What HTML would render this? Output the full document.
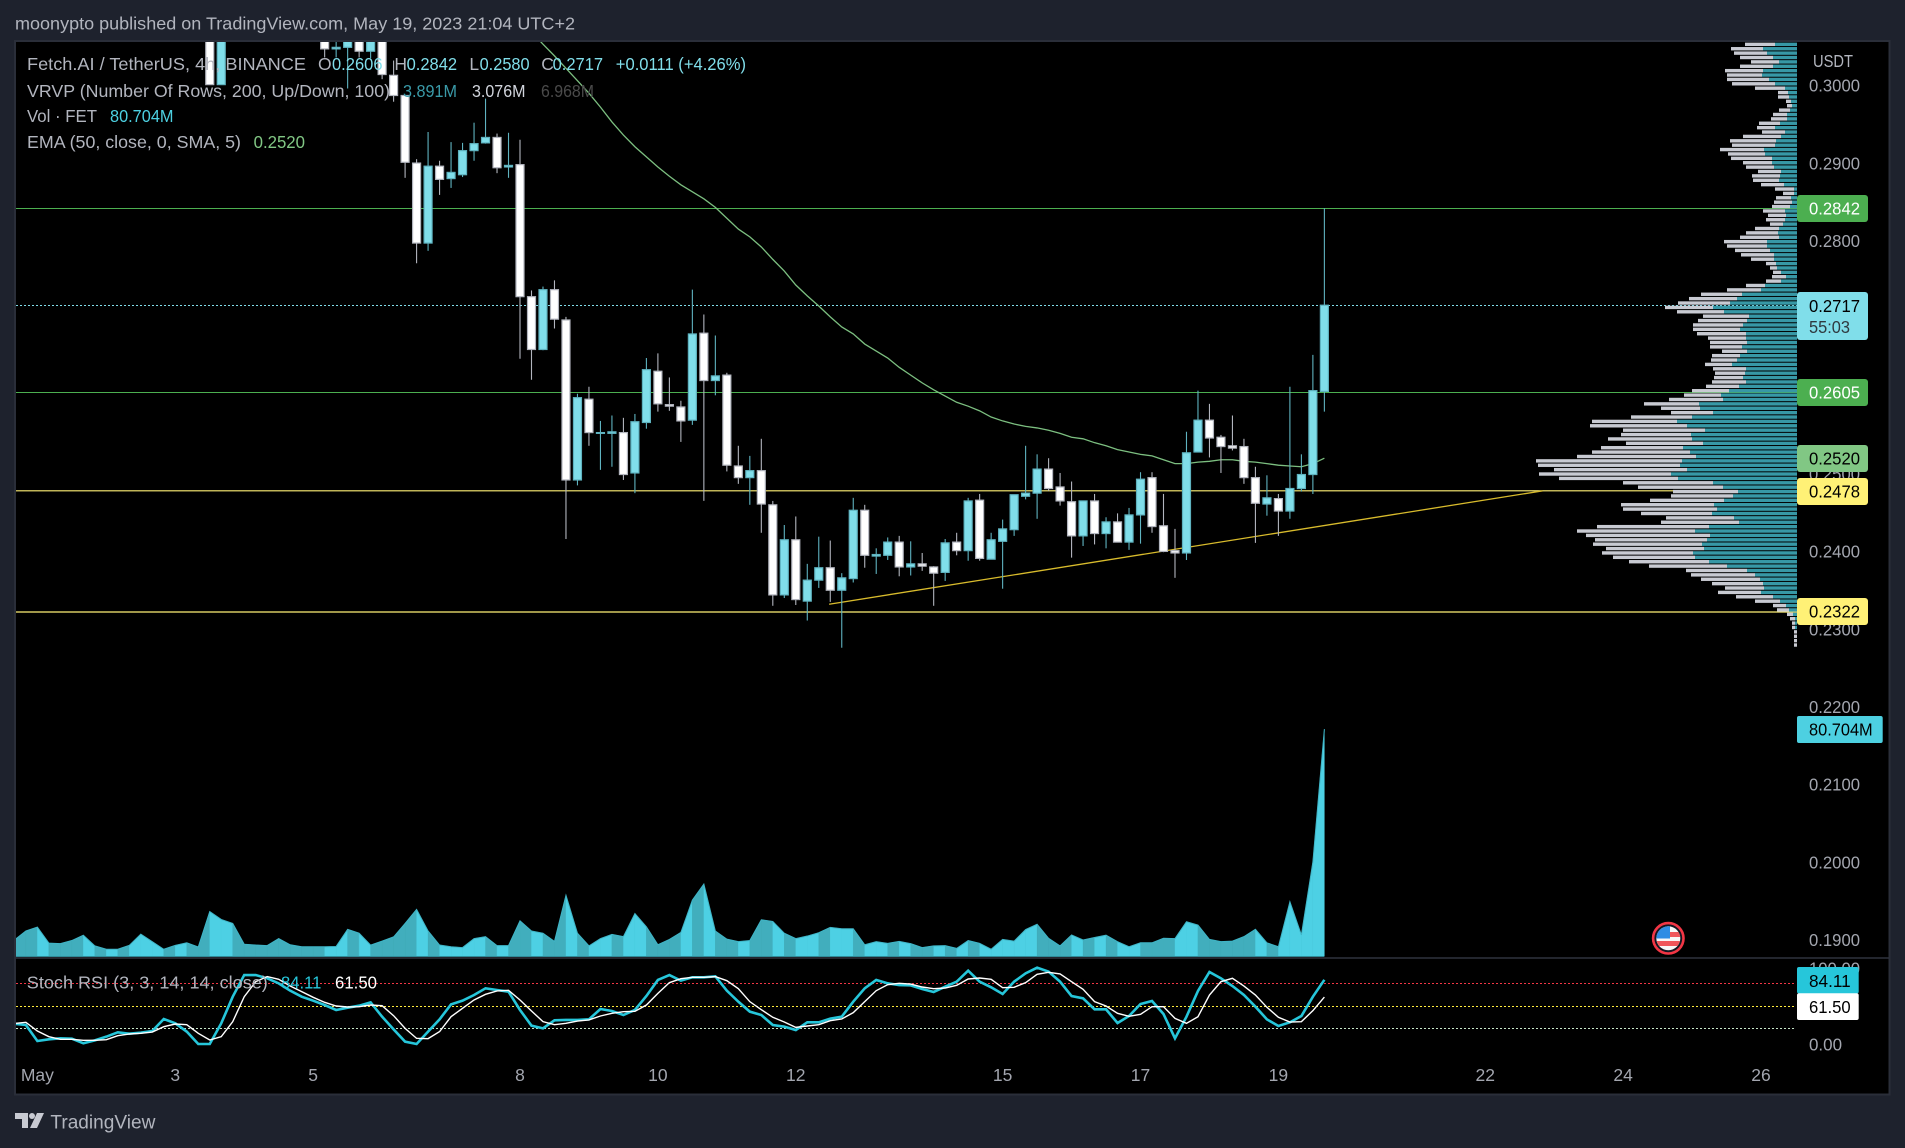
<!DOCTYPE html>
<html lang="en">
<head>
<meta charset="utf-8">
<title>FETUSDT 4h chart</title>
<style>
html,body{margin:0;padding:0;background:#1e222d;width:1905px;height:1148px;overflow:hidden}
svg{display:block}
text{font-family:"Liberation Sans",sans-serif;font-size:17.5px;dominant-baseline:central;transform:translateY(0.2px)}
</style>
</head>
<body>
<svg id="chart" width="1905" height="1148" viewBox="0 0 1905 1148" xmlns="http://www.w3.org/2000/svg">
<defs>
<clipPath id="paneClip"><rect x="16" y="42" width="1873" height="915"/></clipPath>
<clipPath id="flagClip"><circle cx="1668.3" cy="938.3" r="12"/></clipPath>
</defs>
<rect width="1905" height="1148" fill="#1e222d"/>
<rect x="15" y="41" width="1874.5" height="1053.5" fill="#000" stroke="#2a2e39" stroke-width="2"/>
<text x="15" y="23.5" fill="#b2b5be" textLength="560" lengthAdjust="spacingAndGlyphs">moonypto published on TradingView.com, May 19, 2023 21:04 UTC+2</text>
<g id="priceLayer" clip-path="url(#paneClip)"></g>
<line x1="16" x2="1889" y1="958" y2="958" stroke="#2f333e" stroke-width="1.5"/>
<g id="stochLayer"></g>
<g id="axisLayer"></g>

<g>
<text x="27" y="64" fill="#b2b5be" textLength="279" lengthAdjust="spacingAndGlyphs">Fetch.AI / TetherUS, 4h, BINANCE</text>
<text x="318" y="64" fill="#b2b5be">O</text>
<text x="332" y="64" fill="#80deea" textLength="50.5" lengthAdjust="spacingAndGlyphs">0.2606</text>
<text x="394.4" y="64" fill="#b2b5be">H</text>
<text x="406.6" y="64" fill="#80deea" textLength="50.5" lengthAdjust="spacingAndGlyphs">0.2842</text>
<text x="469.4" y="64" fill="#b2b5be">L</text>
<text x="479.6" y="64" fill="#80deea" textLength="50" lengthAdjust="spacingAndGlyphs">0.2580</text>
<text x="541.3" y="64" fill="#b2b5be">C</text>
<text x="552.6" y="64" fill="#80deea" textLength="50.5" lengthAdjust="spacingAndGlyphs">0.2717</text>
<text x="615.8" y="64" fill="#80deea" textLength="130.2" lengthAdjust="spacingAndGlyphs">+0.0111 (+4.26%)</text>
</g>
<g>
<text x="27" y="90.7" fill="#b2b5be" textLength="363" lengthAdjust="spacingAndGlyphs">VRVP (Number Of Rows, 200, Up/Down, 100)</text>
<text x="403" y="90.7" fill="#3a9aa8" textLength="54" lengthAdjust="spacingAndGlyphs">3.891M</text>
<text x="472" y="90.7" fill="#d1d4dc" textLength="53.5" lengthAdjust="spacingAndGlyphs">3.076M</text>
<text x="541" y="90.7" fill="#4a4a4a" textLength="53" lengthAdjust="spacingAndGlyphs">6.968M</text>
</g>
<g>
<text x="27" y="116" fill="#b2b5be" textLength="70" lengthAdjust="spacingAndGlyphs">Vol · FET</text>
<text x="110" y="116" fill="#4dd0e1" textLength="63.5" lengthAdjust="spacingAndGlyphs">80.704M</text>
</g>
<g>
<text x="27" y="142" fill="#b2b5be" textLength="214" lengthAdjust="spacingAndGlyphs">EMA (50, close, 0, SMA, 5)</text>
<text x="253.6" y="142" fill="#81c784" textLength="51.4" lengthAdjust="spacingAndGlyphs">0.2520</text>
</g>
<g>
<text x="26.8" y="982.3" fill="#b2b5be" textLength="241" lengthAdjust="spacingAndGlyphs">Stoch RSI (3, 3, 14, 14, close)</text>
<text x="281" y="982.3" fill="#26c6da" textLength="40.4" lengthAdjust="spacingAndGlyphs">84.11</text>
<text x="335" y="982.3" fill="#ffffff" textLength="42" lengthAdjust="spacingAndGlyphs">61.50</text>
</g>

<text x="1813" y="60.7" fill="#b2b5be" textLength="40" lengthAdjust="spacingAndGlyphs">USDT</text>

<g>
<rect x="1797" y="195" width="71" height="27" rx="3" fill="#4caf50"/>
<text x="1809" y="208.5" fill="#fff" textLength="51" lengthAdjust="spacingAndGlyphs">0.2842</text>
</g>
<g>
<rect x="1797" y="292" width="71" height="48" rx="3" fill="#80deea"/>
<text x="1809" y="306" fill="#000" textLength="51" lengthAdjust="spacingAndGlyphs">0.2717</text>
<text x="1809" y="326.7" fill="#2f3a40" textLength="41" lengthAdjust="spacingAndGlyphs">55:03</text>
</g>
<g>
<rect x="1797" y="379" width="71" height="27" rx="3" fill="#4caf50"/>
<text x="1809" y="392.5" fill="#fff" textLength="51" lengthAdjust="spacingAndGlyphs">0.2605</text>
</g>
<g>
<rect x="1797" y="445" width="71" height="27" rx="3" fill="#81c784"/>
<text x="1809" y="458.5" fill="#000" textLength="51" lengthAdjust="spacingAndGlyphs">0.2520</text>
</g>
<g>
<rect x="1797" y="478" width="71" height="27" rx="3" fill="#fff176"/>
<text x="1809" y="491.5" fill="#000" textLength="51" lengthAdjust="spacingAndGlyphs">0.2478</text>
</g>
<g>
<rect x="1797" y="598" width="71" height="27" rx="3" fill="#fff176"/>
<text x="1809" y="611.5" fill="#000" textLength="51" lengthAdjust="spacingAndGlyphs">0.2322</text>
</g>
<g>
<rect x="1797" y="716" width="85.7" height="27" rx="2" fill="#4dd0e1"/>
<text x="1809" y="729.5" fill="#000" textLength="63.7" lengthAdjust="spacingAndGlyphs">80.704M</text>
</g>
<g>
<rect x="1797" y="967" width="61.7" height="26.5" rx="2" fill="#26c6da"/>
<text x="1809" y="980.7" fill="#000" textLength="41.7" lengthAdjust="spacingAndGlyphs">84.11</text>
</g>
<g>
<rect x="1797" y="993.3" width="61.7" height="26.7" rx="2" fill="#fff"/>
<text x="1809" y="1006.7" fill="#000" textLength="41.7" lengthAdjust="spacingAndGlyphs">61.50</text>
</g>

<g>
<circle cx="1668.3" cy="938.3" r="15.2" fill="#131722" stroke="#f23645" stroke-width="2.6"/>
<g clip-path="url(#flagClip)">
<rect x="1655" y="925" width="27" height="27" fill="#f7f7f7"/>
<rect x="1655" y="932" width="27" height="5" fill="#f0555a"/>
<rect x="1655" y="941" width="27" height="5" fill="#f0555a"/>
<rect x="1655" y="925" width="15" height="13.5" fill="#2f8de4"/>
</g>
</g>

<g>
<path fill="#c8cad2" d="M15 1113H28V1128H22V1119H15Z M37 1113H44L37 1128H30Z"/>
<circle cx="32" cy="1116" r="3" fill="#c8cad2"/>
<text x="50.4" y="1122.7" fill="#b2b5be" textLength="105" lengthAdjust="spacingAndGlyphs" style="font-size:19px">TradingView</text>
</g>

<script>
// ---------- price series (FET/USDT, 4h bars; first bars lie above the visible range) ----------
const opens = [.3450,.3430,.3410,.3385,.3400,.3390,.3375,.3350,.3360,.3350,.3355,.3345,.3365,.3375,.3380,.3365,.3375,.3200,.3001,.3180,.3240,.3210,.3195,.3180,.3165,.3150,.3130,.3090,.3047,.3049,.3085,.3044,.3075,
.3013,.2987,.2900,.2797,.2896,.2880,.2885,.2916,.2926,.2933,.2895,.2898,.2728,.2660,.2737,.2698,.2492,.2596,.2552,.2552,.2553,.2501,.2566,.2632,.2589,.2586,.2569,.2681,.2620,.2627,.2510,.2495,.2504,.2460,.2344,.2415,.2336,.2363,.2379,.2350,.2365,.2453,.2394,.2395,.2412,.2380,.2384,.2380,.2373,.2412,.2401,.2466,.2390,.2413,.2428,.2471,.2475,.2506,.2483,.2464,.2420,.2465,.2423,.2438,.2412,.2447,.2495,.2433,.2401,.2398,.2528,.2569,.2547,.2536,.2535,.2495,.2461,.2468,.2452,.2481,.2499,.2606];
const highs = [.3460,.3440,.3420,.3405,.3410,.3395,.3380,.3365,.3365,.3360,.3360,.3370,.3380,.3385,.3385,.3380,.3380,.3205,.3185,.3245,.3250,.3220,.3200,.3190,.3170,.3155,.3135,.3095,.3080,.3090,.3090,.3080,.3080,
.3032,.2987,.2905,.2940,.2903,.2927,.2926,.2952,.2983,.2938,.2939,.2930,.2736,.2741,.2749,.2702,.2603,.2612,.2568,.2575,.2572,.2577,.2649,.2655,.2624,.2594,.2737,.2705,.2678,.2630,.2536,.2523,.2545,.2465,.2434,.2445,.2384,.2419,.2414,.2372,.2469,.2460,.2404,.2418,.2420,.2413,.2398,.2381,.2416,.2424,.2469,.2474,.2424,.2441,.2473,.2536,.2525,.2520,.2501,.2490,.2465,.2474,.2444,.2449,.2456,.2502,.2502,.2474,.2429,.2554,.2607,.2590,.2550,.2575,.2545,.2509,.2498,.2474,.2612,.2525,.2653,.2842];
const lows = [.3420,.3400,.3380,.3380,.3385,.3370,.3345,.3345,.3345,.3345,.3340,.3340,.3360,.3370,.3360,.3360,.3195,.3001,.3001,.3175,.3205,.3190,.3175,.3160,.3145,.3125,.3085,.3036,.3036,.2996,.3036,.3035,.3008,
.2979,.2881,.2771,.2787,.2859,.2868,.2882,.2903,.2925,.2887,.2881,.2648,.2621,.2659,.2687,.2416,.2485,.2536,.2505,.2509,.2492,.2475,.2558,.2580,.2581,.2541,.2563,.2465,.2601,.2503,.2487,.2460,.2424,.2330,.2340,.2331,.2311,.2353,.2335,.2276,.2360,.2379,.2371,.2389,.2368,.2369,.2375,.2330,.2362,.2395,.2388,.2388,.2390,.2352,.2420,.2467,.2442,.2478,.2459,.2392,.2407,.2409,.2404,.2412,.2402,.2410,.2424,.2399,.2366,.2389,.2528,.2521,.2501,.2530,.2487,.2411,.2446,.2420,.2442,.2477,.2474,.2580];
const closes = [.3430,.3410,.3385,.3400,.3390,.3375,.3350,.3360,.3350,.3355,.3345,.3365,.3375,.3380,.3365,.3375,.3200,.3001,.3180,.3240,.3210,.3195,.3180,.3165,.3150,.3130,.3090,.3047,.3049,.3080,.3044,.3075,.3014,
.2987,.2901,.2797,.2896,.2879,.2888,.2916,.2925,.2933,.2894,.2897,.2728,.2660,.2737,.2699,.2492,.2598,.2553,.2553,.2554,.2499,.2567,.2634,.2590,.2587,.2568,.2680,.2620,.2626,.2511,.2495,.2504,.2461,.2344,.2415,.2338,.2363,.2379,.2350,.2366,.2453,.2395,.2396,.2412,.2380,.2384,.2381,.2372,.2411,.2401,.2465,.2391,.2415,.2429,.2473,.2475,.2506,.2481,.2465,.2420,.2465,.2423,.2438,.2412,.2447,.2493,.2432,.2400,.2398,.2527,.2569,.2546,.2535,.2533,.2495,.2462,.2469,.2452,.2481,.2499,.2607,.2717];
const volumes = [5.7,8.9,10.3,4.6,4.4,5.5,7.4,3.6,2.4,2.4,3.8,7.8,5.1,2.4,3.8,4.7,3.2,15.8,13.0,11.6,4.2,3.9,3.7,6.2,4.0,3.3,3.3,3.3,3.4,9.5,8.1,3.9,5.3,6.8,11.6,16.6,8.9,3.9,3.3,3.0,6.2,6.9,3.7,3.7,12.5,8.9,8.1,5.2,21.6,8.1,3.6,6.2,7.7,6.9,15.1,10.4,4.0,5.9,8.4,19.9,25.6,8.9,6.0,5.1,5.5,12.9,12.3,8.1,6.2,7.1,8.3,10.2,9.7,9.7,4.0,5.1,4.5,5.2,4.4,3.0,3.6,3.7,2.7,5.5,4.5,2.4,5.9,5.3,9.4,11.3,6.3,3.6,7.5,5.7,6.6,7.4,5.1,3.3,4.7,4.7,6.3,6.2,12.2,11.0,5.9,5.1,5.3,6.9,9.5,4.7,3.3,19.3,7.5,33.5,80.704];
const emaStartBar = 45;
const emaValues = [.3069,.3053,.3038,.3022,.3006,.2990,.2972,.2953,.2936,.2921,.2908,.2895,.2883,.2872,.2863,.2854,.2843,.2829,.2815,.2805,.2792,.2776,.2761,.2743,.2729,.2716,.2702,.2689,.2680,.2667,.2658,.2649,.2637,.2627,.2617,.2608,.2600,.2592,.2587,.2581,.2573,.2568,.2564,.2561,.2559,.2556,.2552,.2547,.2545,.2540,.2536,.2531,.2528,.2525,.2523,.2518,.2513,.2513,.2515,.2516,.2518,.2518,.2516,.2515,.2513,.2511,.2510,.2509,.2513,.2520];
const stochK = [26.2,24.9,3.9,6.1,7.4,7.0,0.9,4.8,9.6,15.3,13.5,14.9,17.0,32.8,27.1,16.2,0,0,27.1,62.0,90.4,90.4,86.1,79.5,69.9,62.0,56.8,51.1,44.6,47.6,50.2,54.6,35.8,19.2,3.1,0,16.2,32.3,52.0,56.8,64.2,73.0,70.8,68.6,44.6,24.0,20.5,31.0,31.5,31.5,32.3,45.9,43.3,38.0,44.6,62.9,83.9,90.4,83.0,87.4,87.4,88.7,69.9,55.5,42.4,38.0,24.9,22.7,18.3,28.4,28.4,33.2,35.8,55.5,73.0,83.9,79.5,77.3,76.9,72.1,68.2,75.1,81.7,96.1,81.7,74.3,65.5,81.7,92.6,100,94.8,81.7,62.9,59.9,45.4,45.4,27.5,36.7,52.4,56.4,39.3,7.4,35.8,69.5,94.4,86.1,76.0,64.2,48.9,32.3,23.6,28.4,36.7,62.0,84.11];
const stochD = [27.1,28.4,17.0,9.6,6.1,6.1,4.8,4.8,5.7,10.9,13.1,14.0,15.7,22.7,26.2,25.3,14.0,5.2,9.6,29.3,62.0,81.7,88.3,84.8,76.0,68.6,61.2,54.6,49.8,48.5,48.9,51.1,50.2,37.1,20.5,7.4,7.0,16.2,35.8,46.7,57.7,65.1,69.5,70.3,57.7,43.3,29.3,25.3,27.1,30.1,31.5,36.7,40.2,42.4,42.8,51.1,66.4,80.4,85.6,87.4,87.4,88.3,83.0,72.5,55.5,45.0,35.0,28.8,21.8,23.6,25.3,30.6,32.8,41.1,55.5,69.9,77.8,79.5,78.6,74.7,72.5,73.4,76.9,85.2,86.5,84.8,73.8,74.3,80.4,91.3,93.9,91.8,81.7,71.7,55.5,49.8,40.2,36.3,38.9,48.9,48.9,33.6,27.1,35.8,64.2,81.7,86.1,76.0,64.2,48.1,35.0,28.8,29.3,43.7,61.5];
const vrvpUp = [2.2,2.2,3.4,3.0,2.4,1.8,2.4,3.4,3.5,2.8,
2.2,1.2,0.9,0.8,0.6,0.5,0.7,1.0,1.0,1.7,
2.2,1.2,1.6,2.1,2.2,3.3,3.2,2.5,2.5,2.3,
1.6,1.7,1.8,1.3,0.3,0.3,0.6,0.5,0.7,1.2,
1.1,1.2,1.4,1.8,1.9,1.8,3.0,3.0,2.7,2.3,
2.3,2.1,2.0,1.6,1.1,1.6,3.2,3.6,5.5,6.0,
6.7,8.4,7.3,4.8,5.0,5.4,5.7,5.1,5.1,5.0,
5.5,5.0,5.7,6.0,6.5,5.1,5.2,5.4,5.1,5.8,
6.8,7.6,7.4,9.8,9.7,8.4,10.5,12.0,11.0,9.2,
10.6,10.5,9.4,11.4,10.7,10.1,11.5,11.7,11.0,12.6,
11.9,8.4,7.4,5.9,6.4,7.3,8.3,8.0,8.5,6.3,
5.8,8.8,10.2,8.7,9.0,9.5,9.3,10.4,10.2,8.8,
7.0,5.0,4.2,3.7,3.4,3.3,3.6,2.4,1.7,1.1,
0.8,0.4,0.2,0.2,0.2,0,0,0,0];
const vrvpDown = [1.7,3.0,3.2,3.3,3.3,2.8,3.3,3.8,3.5,4.2,
4.3,3.0,1.0,1.1,0.5,0.5,1.1,1.4,1.6,2.1,
1.8,2.3,3.8,4.6,4.3,4.4,3.7,4.1,2.9,2.8,
2.3,2.8,2.6,2.3,1.9,1.1,1.5,1.8,1.8,2.2,
1.8,1.9,1.3,2.4,3.2,3.9,4.3,4.0,3.5,3.3,
2.3,1.0,0.7,0.8,1.4,1.5,1.9,3.4,4.1,4.8,
5.2,4.8,4.7,4.6,4.9,5.0,4.7,4.9,3.8,3.7,
3.2,2.5,2.8,2.6,2.7,3.3,3.0,2.9,3.4,3.3,
3.7,3.7,5.4,5.5,3.9,4.2,6.1,8.5,9.7,8.2,
7.0,8.4,7.7,8.2,9.8,11.9,14.6,14.2,13.3,13.2,
11.9,9.0,8.5,6.5,6.2,7.4,9.3,9.4,7.1,6.8,
7.8,11.2,11.8,12.4,11.2,10.9,9.8,9.1,8.2,8.0,
7.8,6.1,6.4,5.9,5.1,3.9,4.3,3.7,2.5,1.3,
1.2,0.6,0.5,0.3,0.3,0.3,0.3,0.3,0.3];
const vrvpTopPrice = .30585;
const vrvpRowStep = .0005645;
const priceTicks = [.30,.29,.28,.27,.26,.25,.24,.23,.22,.21,.20,.19];
const stochTicks = [100,0];
const stochBands = [80,50,20];
const greenLevels = [.2842,.2605];
const yellowLevels = [.2478,.2322];
const lastPrice = .2717;
const trendBars = [70.9,133];
const trendPrices = [.2332,.2478];
const timeLabels = ['May','3','5','8','10','12','15','17','19','22','24','26'];
const timeLabelDays = [1,3,5,8,10,12,15,17,19,22,24,26];

// ---------- axis functions ----------
const xBar = i => 14.4 + 11.491 * i;
const xDay = d => xBar(2 + (d - 1) * 6);
const yPrice = p => 85.4 + (0.3 - p) * 7767;
const yVolume = v => 956 - v * 2.81;
const yStoch = v => 1044 - v * 0.763;
const snap = y => Math.round(y - 0.3) + 0.5;
const vrvpRight = 1797;
const vrvpPxPerM = 10;

const NS = 'http://www.w3.org/2000/svg';
function make(tag, parent, attrs, text) {
  const el = document.createElementNS(NS, tag);
  for (const k in attrs) el.setAttribute(k, attrs[k]);
  if (text !== undefined) el.textContent = text;
  parent.appendChild(el);
  return el;
}
const priceLayer = document.getElementById('priceLayer');
const stochLayer = document.getElementById('stochLayer');
const axisLayer = document.getElementById('axisLayer');

// horizontal levels
greenLevels.forEach(p => {
  const el = make('line', priceLayer, {x1: 16, x2: vrvpRight, y1: snap(yPrice(p)), y2: snap(yPrice(p)), stroke: '#4caf50', 'stroke-width': 1});
  
  
});
yellowLevels.forEach(p => {
  const el = make('line', priceLayer, {x1: 16, x2: vrvpRight, y1: yPrice(p), y2: yPrice(p), stroke: '#fff176', 'stroke-width': 1.2});
  
  
});
const lastLine = make('line', priceLayer, {x1: 16, x2: vrvpRight, y1: snap(yPrice(lastPrice)), y2: snap(yPrice(lastPrice)), stroke: '#80deea', 'stroke-width': 1, 'stroke-dasharray': '2 2'});



// trend line
const trendLine = make('line', priceLayer, {x1: xBar(trendBars[0]), y1: yPrice(trendPrices[0]), x2: xBar(trendBars[1]), y2: yPrice(trendPrices[1]), stroke: '#d8bb2c', 'stroke-width': 1.3});



// volume area
const volumeGroup = make('g', priceLayer, {});


volumes.forEach((v, i) => {
  if (i === 0) return;
  const up = closes[i] >= opens[i];
  const fill = up ? '#4dd0e4' : '#41aebd';
  const pts = [[xBar(i - 1), 956], [xBar(i - 1), yVolume(volumes[i - 1])], [xBar(i), yVolume(v)], [xBar(i), 956]];
  const seg = make('polygon', volumeGroup, {points: pts.map(q => q.join(',')).join(' '), fill: fill, stroke: fill, 'stroke-width': 0.4});
  
  
});
const volumeEdge = make('polyline', volumeGroup, {points: volumes.map((v, i) => xBar(i) + ',' + yVolume(v)).join(' '), fill: 'none', stroke: '#3fb4c6', 'stroke-width': 1});


const volumeBase = make('line', volumeGroup, {x1: 16, x2: xBar(volumes.length - 1), y1: 956.5, y2: 956.5, stroke: '#2f8b98', 'stroke-width': 1});



// EMA
const emaLine = make('polyline', priceLayer, {points: emaValues.map((v, k) => xBar(emaStartBar + k) + ',' + yPrice(v)).join(' '), fill: 'none', stroke: '#7cbf80', 'stroke-width': 1.3});



// candles
closes.forEach((c, i) => {
  const o = opens[i];
  const up = c >= o;
  const x = xBar(i);
  const top = yPrice(Math.max(o, c));
  const bottom = yPrice(Math.min(o, c));
  const wick = make('line', priceLayer, {x1: x, x2: x, y1: yPrice(highs[i]), y2: yPrice(lows[i]), stroke: up ? '#5fb3c0' : '#b2b5be', 'stroke-width': 1.1});
  
  
  const body = make('rect', priceLayer, {x: x - 4, y: top, width: 8, height: Math.max(bottom - top, 0.8), fill: up ? '#80deea' : '#ffffff', stroke: up ? '#5fb3c0' : '#b2b5be', 'stroke-width': 1.2});
  
  
});

// volume profile
vrvpUp.forEach((u, k) => {
  const y = yPrice(vrvpTopPrice - k * vrvpRowStep) - 1.7;
  const upW = u * vrvpPxPerM;
  const downW = vrvpDown[k] * vrvpPxPerM;
  const downBar = make('rect', priceLayer, {x: vrvpRight - upW - downW, y: y, width: downW, height: 3.4, fill: '#c8cad2'});
  
  
  const upBar = make('rect', priceLayer, {x: vrvpRight - upW, y: y, width: upW, height: 3.4, fill: '#3798a6'});
  
  
});

// stochastic pane
const bandColors = ['#f23645', '#ffeb3b', '#c8e6c9'];
stochBands.forEach((b, k) => {
  const el = make('line', stochLayer, {x1: 16, x2: 1795, y1: snap(yStoch(b)), y2: snap(yStoch(b)), stroke: bandColors[k], 'stroke-width': 1, 'stroke-dasharray': '2 2'});
  
  
});
const kLine = make('polyline', stochLayer, {points: stochK.map((v, i) => Math.max(xBar(i), 16) + ',' + yStoch(v)).join(' '), fill: 'none', stroke: '#26c6da', 'stroke-width': 2.6});


const dLine = make('polyline', stochLayer, {points: stochD.map((v, i) => Math.max(xBar(i), 16) + ',' + yStoch(v)).join(' '), fill: 'none', stroke: '#ffffff', 'stroke-width': 1.4});



// axes
priceTicks.forEach(p => {
  const t = make('text', axisLayer, {x: 1809, y: yPrice(p), fill: '#a3a6af', textLength: 51, lengthAdjust: 'spacingAndGlyphs'}, p.toFixed(4));
  
  
});
stochTicks.forEach(v => {
  const t = make('text', axisLayer, {x: 1809, y: yStoch(v) + 0.5, fill: '#a3a6af', textLength: v === 100 ? 51 : 33, lengthAdjust: 'spacingAndGlyphs'}, v.toFixed(2));
  
  
});
timeLabels.forEach((s, k) => {
  const t = make('text', axisLayer, {x: xDay(timeLabelDays[k]), y: 1075, fill: '#a3a6af', 'text-anchor': 'middle'}, s);
  
  
});
</script>
</svg>
</body>
</html>
